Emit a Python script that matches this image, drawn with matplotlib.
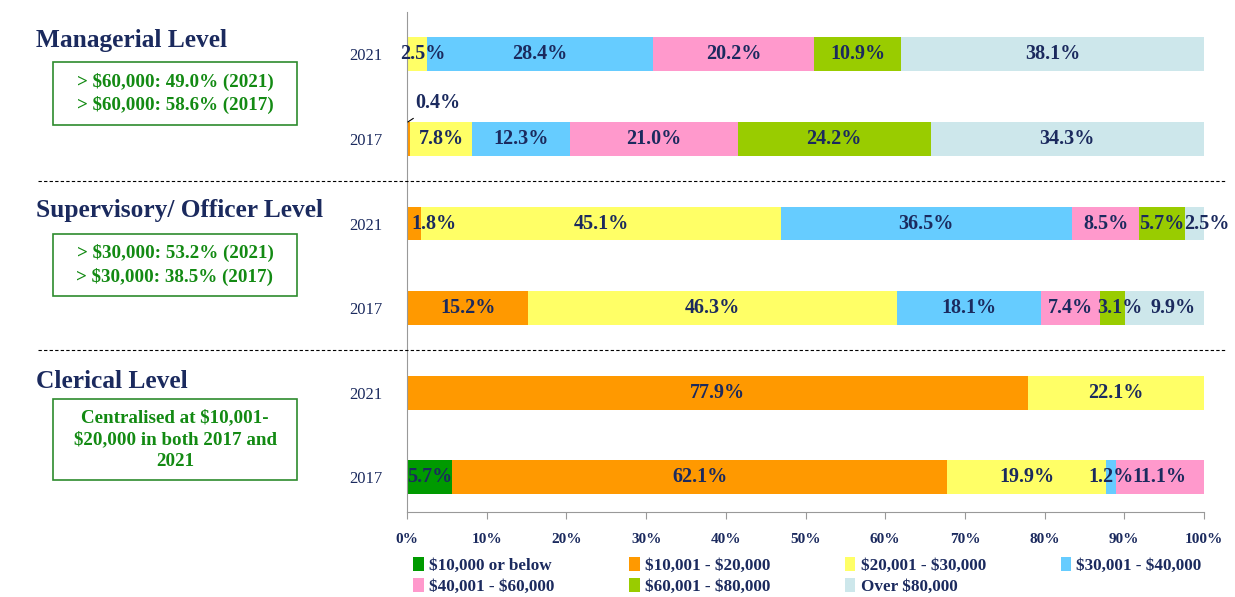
import matplotlib
matplotlib.use("Agg")
import matplotlib.pyplot as plt
from matplotlib.lines import Line2D
from matplotlib.patches import Rectangle
import matplotlib.transforms as mtransforms

plt.rcParams["text.parse_math"] = False

# salary bands, stacked left to right
bands = ["$10,000 or below", "$10,001 - $20,000", "$20,001 - $30,000",
         "$30,001 - $40,000", "$40,001 - $60,000", "$60,001 - $80,000",
         "Over $80,000"]
band_colors = ["#009a00", "#ff9900", "#ffff66", "#66ccff", "#ff99cc",
               "#99cc00", "#cde7eb"]

years = ["2021", "2017", "2021", "2017", "2021", "2017"]

# share of staff (%) in each band, one list per bar (top to bottom)
managerial_2021 = [0, 0, 2.5, 28.4, 20.2, 10.9, 38.1]
managerial_2017 = [0, 0.4, 7.8, 12.3, 21.0, 24.2, 34.3]
supervisory_2021 = [0, 1.8, 45.1, 36.5, 8.5, 5.7, 2.5]
supervisory_2017 = [0, 15.2, 46.3, 18.1, 7.4, 3.1, 9.9]
clerical_2021 = [0, 77.9, 22.1, 0, 0, 0, 0]
clerical_2017 = [5.7, 62.1, 19.9, 1.2, 11.1, 0, 0]

rows = [managerial_2021, managerial_2017, supervisory_2021,
        supervisory_2017, clerical_2021, clerical_2017]

level_titles = ["Managerial Level", "Supervisory/ Officer Level", "Clerical Level"]
level_notes = ["> $60,000: 49.0% (2021)\n> $60,000: 58.6% (2017)",
               "> $30,000: 53.2% (2021)\n> $30,000: 38.5% (2017)",
               "Centralised at $10,001-\n$20,000 in both 2017 and\n2021"]

navy = "#1b2a5e"
green_txt = "#138a13"
serif = "Liberation Serif"

# small slices whose labels sit a little to the right (row, band): shift in %
label_shift = {(0, 2): 0.7, (2, 1): 2.5, (2, 6): 1.5, (3, 5): 0.9, (3, 6): 1.1}

fig = plt.figure(figsize=(12.35, 5.97), dpi=100)
ax = fig.add_axes([0.3296, 0.1424, 0.6453, 0.8375])

bar_h = 0.4
for i, vals in enumerate(rows):
    left = 0
    for j, v in enumerate(vals):
        ax.barh(i, v, left=left, height=bar_h, color=band_colors[j],
                label=bands[j] if i == 0 else None, linewidth=0)
        if v > 0 and not (i == 1 and j == 1):
            ax.text(left + v / 2 + label_shift.get((i, j), 0), i, f"{v:.1f}%",
                    ha="center", va="center", fontsize=14.5, fontweight="bold",
                    color=navy, family=serif)
        left += v

# the tiny 0.4% slice gets its label above the bar
ax.annotate("0.4%", xy=(0.1, 1 - bar_h / 2), xytext=(3.8, 0.57),
            ha="center", va="center", fontsize=14.5, fontweight="bold",
            color=navy, family=serif,
            arrowprops=dict(arrowstyle="-", color="black", lw=0.8,
                            shrinkA=4, shrinkB=0))

ax.set_xlim(0, 100)
ax.set_ylim(5.41, -0.5)
ax.set_xticks(range(0, 101, 10))
ax.set_xticklabels([f"{t}%" for t in range(0, 101, 10)])
ax.set_yticks(range(6))
ax.set_yticklabels(years)
for lab in ax.get_xticklabels():
    lab.set_fontsize(11)
    lab.set_fontweight("bold")
    lab.set_color(navy)
    lab.set_family(serif)
for lab in ax.get_yticklabels():
    lab.set_fontsize(12)
    lab.set_color(navy)
    lab.set_family(serif)
ax.tick_params(axis="y", length=0, pad=18)
ax.tick_params(axis="x", length=5, color="#999999", pad=10)
for side in ["top", "right"]:
    ax.spines[side].set_visible(False)
ax.spines["left"].set_color("#999999")
ax.spines["bottom"].set_color("#999999")

# dashed separators between job levels
blend = mtransforms.blended_transform_factory(fig.transFigure, ax.transData)
for y in [1.5, 3.5]:
    fig.add_artist(Line2D([0.031, 0.992], [y, y], transform=blend,
                          color="black", lw=0.8, linestyle=(0, (3, 2))))

# level titles and summary boxes on the left
title_y = [1 - 40 / 597, 1 - 211 / 597, 1 - 381 / 597]
box_spans = [(62, 125), (234, 296), (399, 480)]
for title, note, ty, (top, bot) in zip(level_titles, level_notes, title_y, box_spans):
    fig.text(36 / 1235, ty, title, ha="left", va="center", fontsize=18.3,
             fontweight="bold", color=navy, family=serif)
    y0 = 1 - bot / 597
    h = (bot - top) / 597
    fig.add_artist(Rectangle((53 / 1235, y0), 244 / 1235, h, transform=fig.transFigure,
                             fill=False, edgecolor="#2e8b2e", lw=1.2))
    fig.text(175 / 1235, y0 + h / 2, note, ha="center", va="center",
             fontsize=13.7, fontweight="bold", color=green_txt, family=serif,
             linespacing=1.4)

handles, labels = ax.get_legend_handles_labels()
order = [0, 4, 1, 5, 2, 6, 3]
leg = fig.legend([handles[k] for k in order], [labels[k] for k in order],
                 loc="lower left", bbox_to_anchor=(398 / 1235, -0.022), ncol=4,
                 frameon=False, handlelength=0.6, handleheight=0.9,
                 handletextpad=0.3, columnspacing=4.4, labelspacing=0.25,
                 prop=dict(family=serif, weight="bold", size=12.3))
for t in leg.get_texts():
    t.set_color(navy)

fig.savefig("out.png", dpi=100)
